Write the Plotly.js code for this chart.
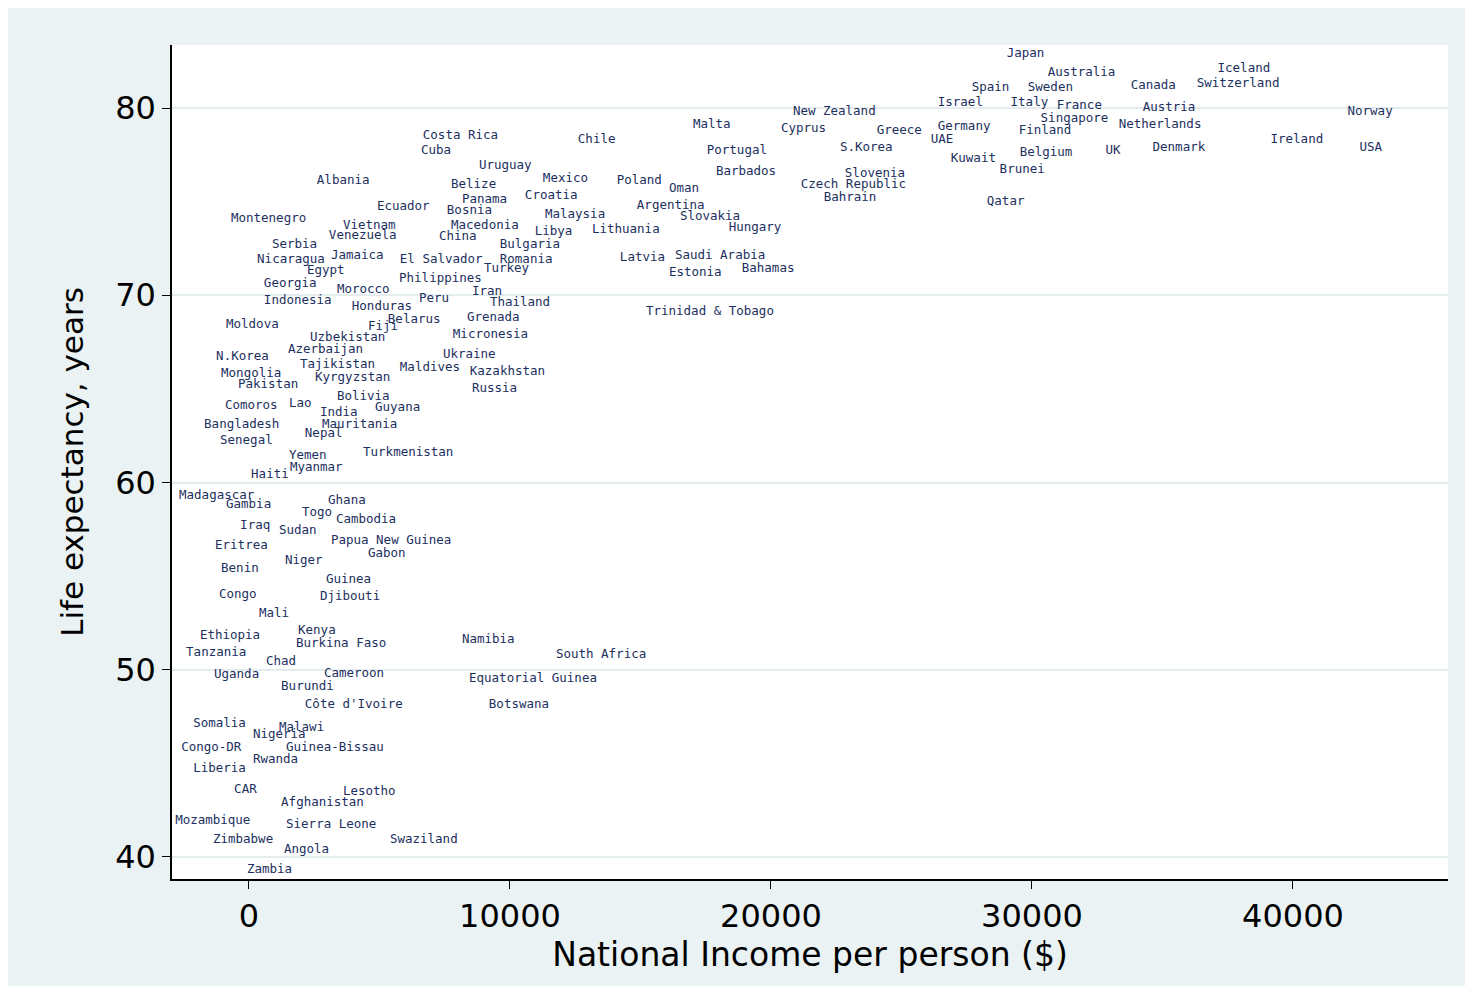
<!DOCTYPE html>
<html><head><meta charset="utf-8">
<script src="https://cdn.plot.ly/plotly-3.0.1.min.js"></script>
<style>body{margin:0;background:#fff}#graph{position:absolute;left:8px;top:8px;width:1457px;height:978px}</style>
</head><body><div id="graph"></div>
<script>
const countries = ["Japan","Australia","Iceland","Canada","Switzerland","Spain","Sweden","Israel","Italy","France","Austria","Norway","New Zealand","Malta","Cyprus","Greece","Germany","Singapore","Finland","Netherlands","UAE","Costa Rica","Chile","Ireland","USA","Cuba","Portugal","S.Korea","Belgium","UK","Denmark","Kuwait","Brunei","Uruguay","Barbados","Slovenia","Czech Republic","Bahrain","Qatar","Albania","Mexico","Belize","Poland","Oman","Croatia","Panama","Ecuador","Bosnia","Argentina","Malaysia","Slovakia","Montenegro","Macedonia","Vietnam","Lithuania","Libya","Hungary","Venezuela","China","Bulgaria","Serbia","Jamaica","Latvia","Saudi Arabia","Nicaragua","El Salvador","Romania","Egypt","Turkey","Bahamas","Estonia","Philippines","Georgia","Iran","Morocco","Peru","Thailand","Indonesia","Honduras","Trinidad & Tobago","Grenada","Belarus","Fiji","Moldova","Micronesia","Uzbekistan","Azerbaijan","Ukraine","N.Korea","Tajikistan","Maldives","Kazakhstan","Mongolia","Kyrgyzstan","Pakistan","Russia","Bolivia","Comoros","Lao","Guyana","India","Mauritania","Bangladesh","Nepal","Senegal","Turkmenistan","Yemen","Myanmar","Haiti","Madagascar","Ghana","Gambia","Togo","Cambodia","Iraq","Sudan","Eritrea","Papua New Guinea","Gabon","Niger","Benin","Guinea","Congo","Djibouti","Mali","Kenya","Ethiopia","Namibia","Burkina Faso","Tanzania","South Africa","Chad","Uganda","Cameroon","Equatorial Guinea","Burundi","Côte d'Ivoire","Botswana","Somalia","Malawi","Nigeria","Congo-DR","Guinea-Bissau","Rwanda","Liberia","CAR","Lesotho","Afghanistan","Mozambique","Sierra Leone","Swaziland","Zimbabwe","Angola","Zambia"];
const income = [29030,30600,37110,33780,36310,27690,29840,26390,29180,30950,34240,42090,20840,17010,20380,24050,26390,30330,29490,33320,26120,6660,12600,39140,42550,6590,17540,22640,29530,32820,34620,26890,28760,8810,17890,22830,21140,22020,28270,2600,11260,7740,14090,16090,10570,8160,4900,7580,14860,11340,16510,-690,7740,3600,13140,10950,18380,3060,7280,9610,880,3140,14210,16320,310,5780,9610,2220,9000,18880,16090,5750,570,8540,3370,6510,9230,570,3940,15210,8350,5320,4560,-880,7810,2340,1490,7430,-1260,1950,5780,8460,-1070,2530,-420,8540,3370,-920,1530,4830,2720,2800,-1720,2140,-1110,4370,1530,1570,80,-2680,3030,-880,2030,3330,-340,1150,-1300,3140,4560,1380,-1070,2950,-1150,2720,380,1880,-1880,8160,1800,-2410,11760,650,-1340,2870,8430,1230,2140,9190,-2140,1150,150,-2600,1420,150,-2140,-570,3600,1230,-2830,1420,5400,-1380,1340,-80];
const lifeExp = [82.9,81.9,82.1,81.2,81.3,81.1,81.1,80.3,80.3,80.1,80.0,79.8,79.8,79.1,78.9,78.8,79.0,79.4,78.8,79.1,78.3,78.5,78.3,78.3,77.9,77.7,77.7,77.9,77.6,77.7,77.9,77.3,76.7,76.9,76.6,76.5,75.9,75.2,75.0,76.1,76.2,75.9,76.1,75.7,75.3,75.1,74.7,74.5,74.8,74.3,74.2,74.1,73.7,73.7,73.5,73.4,73.6,73.2,73.1,72.7,72.7,72.1,72.0,72.1,71.9,71.9,71.9,71.3,71.4,71.4,71.2,70.9,70.6,70.2,70.3,69.8,69.6,69.7,69.4,69.1,68.8,68.7,68.3,68.4,67.9,67.7,67.1,66.8,66.7,66.3,66.1,65.9,65.8,65.6,65.2,65.0,64.6,64.1,64.2,64.0,63.7,63.1,63.1,62.6,62.2,61.6,61.4,60.8,60.4,59.3,59.0,58.8,58.4,58.0,57.7,57.4,56.6,56.9,56.2,55.8,55.4,54.8,54.0,53.9,53.0,52.1,51.8,51.6,51.4,50.9,50.8,50.4,49.7,49.8,49.5,49.1,48.1,48.1,47.1,46.9,46.5,45.8,45.8,45.2,44.7,43.6,43.5,42.9,41.9,41.7,40.9,40.9,40.4,39.3];
const xTicks = [0,10000,20000,30000,40000];
const yTicks = [40,50,60,70,80];

const trace = {
    x: income, y: lifeExp, text: countries,
    mode: 'text', type: 'scatter',
    textposition: 'middle right',
    textfont: { family: 'DejaVu Sans Mono', size: 12.5, color: '#1c2f5e' },
    cliponaxis: false, hoverinfo: 'text'
};
const layout = {
    width: 1457, height: 978,
    paper_bgcolor: '#eaf2f3', plot_bgcolor: '#ffffff',
    margin: { l: 164, r: 17, t: 37, b: 107 },
    showlegend: false,
    xaxis: {
        range: [-2950, 45940], tickvals: xTicks, ticktext: xTicks.map(String),
        showgrid: false, zeroline: false, showline: true, linecolor: '#000', linewidth: 1.5,
        ticks: 'outside', ticklen: 8, tickcolor: '#000',
        tickfont: { family: 'DejaVu Sans', size: 32, color: '#000' },
        title: { text: 'National Income per person ($)', font: { family: 'DejaVu Sans', size: 33, color: '#000' }, standoff: 2 }
    },
    yaxis: {
        range: [38.82, 83.37], tickvals: yTicks, ticktext: yTicks.map(String),
        showgrid: true, gridcolor: '#e4ecee', gridwidth: 2, zeroline: false,
        showline: true, linecolor: '#000', linewidth: 1.5,
        ticks: 'outside', ticklen: 8, tickcolor: '#000',
        tickfont: { family: 'DejaVu Sans', size: 32, color: '#000' },
        title: { text: 'Life expectancy, years', font: { family: 'DejaVu Sans', size: 31, color: '#000' }, standoff: 22 }
    }
};
Plotly.newPlot('graph', [trace], layout, { displayModeBar: false });
</script></body></html>
